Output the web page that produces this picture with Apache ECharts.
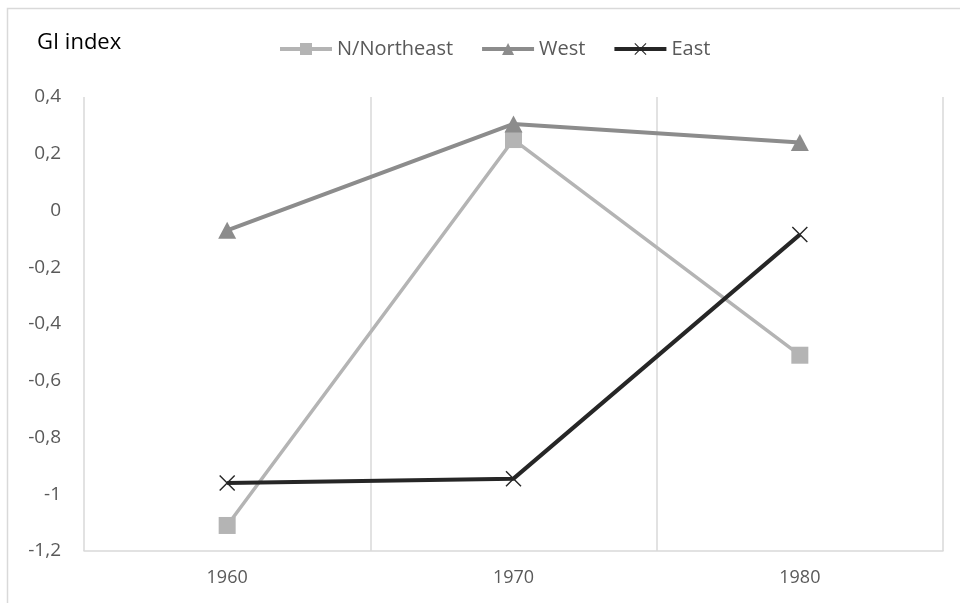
<!DOCTYPE html>
<html>
<head>
<meta charset="utf-8">
<script src="https://cdn.jsdelivr.net/npm/echarts@6/dist/echarts.min.js"></script>
<style>
  html, body { margin: 0; padding: 0; background: #fff; }
  #chart { width: 960px; height: 603px; }
</style>
</head>
<body>
<div id="chart"></div>
<script>
// GI index by region, census years
const years = ['1960', '1970', '1980'];
const northNortheast = [-1.11, 0.25, -0.51];
const west = [-0.07, 0.305, 0.24];
const east = [-0.96, -0.945, -0.085];
const yTicks = { min: -1.2, max: 0.4, step: 0.2 };

const FONT = '"Open Sans", "Liberation Sans", sans-serif';
const TEXT = '#595959';
const GRID = '#d9d9d9';

// filled "X" glyph used as the East marker
const crossPath = 'path://M0,1L1,0L8,7L15,0L16,1L9,8L16,15L15,16L8,9L1,16L0,15L7,8Z';

const chart = echarts.init(document.getElementById('chart'), null, { renderer: 'canvas' });

chart.setOption({
  animation: false,
  backgroundColor: '#fff',
  textStyle: { fontFamily: FONT },
  graphic: [{
    type: 'rect',
    shape: { x: 7.5, y: 8.5, width: 1000, height: 700 },
    style: { fill: 'none', stroke: GRID, lineWidth: 1.5 },
    silent: true
  }, {
    type: 'text',
    left: 37,
    top: 32,
    style: { text: 'GI index', fill: '#000', font: '22px ' + FONT }
  }],
  legend: {
    top: 34,
    left: 273,
    itemWidth: 52,
    itemHeight: 15,
    itemGap: 27,
    lineStyle: { width: 4 },
    textStyle: { color: TEXT, fontSize: 20, fontFamily: FONT, padding: [0, 0, 0, 0] },
    data: ['N/Northeast', 'West', 'East']
  },
  grid: { left: 84, right: 17, top: 97, bottom: 52 },
  xAxis: {
    type: 'category',
    data: years,
    boundaryGap: true,
    axisLine: { show: true, onZero: false, lineStyle: { color: GRID, width: 1.5 } },
    axisTick: { show: false },
    axisLabel: { color: TEXT, fontSize: 18, margin: 18, fontFamily: FONT },
    splitLine: { show: true, interval: 0, lineStyle: { color: GRID, width: 1.5 } }
  },
  yAxis: {
    type: 'value',
    min: yTicks.min,
    max: yTicks.max,
    interval: yTicks.step,
    axisLine: { show: false },
    axisTick: { show: false },
    splitLine: { show: false },
    axisLabel: {
      color: TEXT,
      fontSize: 19,
      margin: 23,
      fontFamily: FONT,
      formatter: v => {
        const r = Math.round(v * 10) / 10;
        return String(r).replace('.', ',');
      }
    }
  },
  series: [{
    name: 'N/Northeast',
    type: 'line',
    data: northNortheast,
    symbol: 'rect',
    symbolSize: 17,
    lineStyle: { color: '#b4b4b4', width: 3.5 },
    itemStyle: { color: '#b4b4b4' }
  }, {
    name: 'West',
    type: 'line',
    data: west,
    symbol: 'triangle',
    symbolSize: [18, 17],
    lineStyle: { color: '#8c8c8c', width: 4 },
    itemStyle: { color: '#8c8c8c' }
  }, {
    name: 'East',
    type: 'line',
    data: east,
    symbol: crossPath,
    symbolSize: 16,
    lineStyle: { color: '#262626', width: 4 },
    itemStyle: { color: '#262626' }
  }]
});
</script>
</body>
</html>
